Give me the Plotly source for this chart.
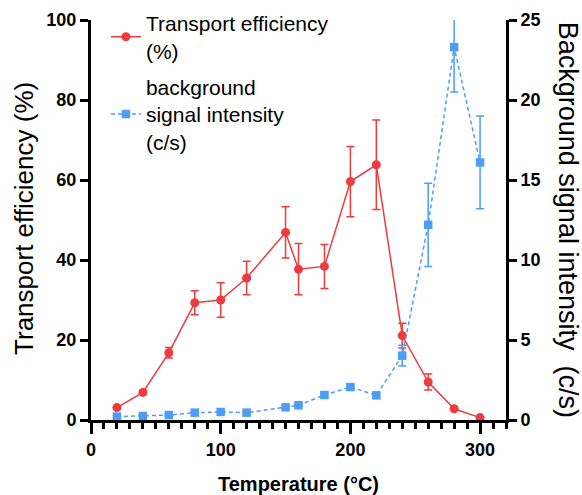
import plotly.graph_objects as go

temperature = [20, 40, 60, 80, 100, 120, 150, 160, 180, 200, 220, 240, 260, 280, 300]
efficiency = [3.1, 6.9, 16.8, 29.3, 30.0, 35.5, 46.9, 37.7, 38.4, 59.6, 63.8, 21.1, 9.5, 2.8, 0.6]
efficiency_err = [0.4, 0.5, 1.3, 3.0, 4.3, 4.2, 6.4, 6.4, 5.5, 8.8, 11.2, 3.1, 2.0, 0.3, 0.2]
background = [0.21, 0.25, 0.31, 0.46, 0.50, 0.46, 0.79, 0.92, 1.56, 2.06, 1.54, 4.02, 12.2, 23.3, 16.1]
background_err = [0.05, 0.05, 0.05, 0.05, 0.05, 0.05, 0.05, 0.05, 0.1, 0.1, 0.1, 0.65, 2.6, 2.8, 2.9]

x_ticks = [0, 100, 200, 300]
y_ticks = [0, 20, 40, 60, 80, 100]
y2_ticks = [0, 5, 10, 15, 20, 25]

RED = "#EE3B3F"
BLUE = "#4D9DF5"
FONT = "Liberation Sans, Arial, sans-serif"

fig = go.Figure()

fig.add_trace(go.Scatter(
    x=temperature, y=background, yaxis="y2", mode="markers",
    marker=dict(size=8.5, symbol="square", color="rgba(0,0,0,0)"),
    error_y=dict(type="data", array=background_err, color=BLUE, thickness=1.5, width=4),
    showlegend=False, hoverinfo="skip", cliponaxis=True,
))
fig.add_trace(go.Scatter(
    x=temperature, y=background, yaxis="y2", mode="lines+markers",
    name="background<br>signal intensity<br>(c/s)",
    line=dict(color=BLUE, width=1.5, dash="4px,3px"),
    marker=dict(size=8.5, symbol="square", color=BLUE),
    cliponaxis=False, legendrank=2, legendgroup="b",
))
fig.add_trace(go.Scatter(
    x=temperature, y=efficiency, mode="markers",
    marker=dict(size=9, color="rgba(0,0,0,0)"),
    error_y=dict(type="data", array=efficiency_err, color=RED, thickness=1.5, width=4),
    showlegend=False, hoverinfo="skip", cliponaxis=True,
))
fig.add_trace(go.Scatter(
    x=temperature, y=efficiency, mode="lines+markers",
    name="Transport efficiency<br>(%)",
    line=dict(color=RED, width=1.5),
    marker=dict(size=9, symbol="circle", color=RED),
    cliponaxis=False, legendrank=1, legendgroup="a",
))

axis_common = dict(
    showline=True, linecolor="black", linewidth=3, showgrid=False, zeroline=False,
    ticks="outside", tickcolor="black", tickwidth=3,
    tickfont=dict(family=FONT, size=18, color="black", weight="bold"),
)

fig.update_layout(
    width=582, height=495,
    margin=dict(l=91, r=76, t=20, b=75, autoexpand=False),
    paper_bgcolor="white", plot_bgcolor="white",
    font=dict(family=FONT, color="black"),
    xaxis=dict(range=[0, 320], tickvals=x_ticks, ticklen=11,
               minor=dict(dtick=10, tick0=0, ticks="outside", ticklen=6, tickwidth=2.5, tickcolor="black", showgrid=False),
               **axis_common),
    yaxis=dict(range=[0, 100], tickvals=y_ticks, ticklen=8, **axis_common),
    yaxis2=dict(range=[0, 25], tickvals=y2_ticks, ticklen=8, overlaying="y", side="right",
                anchor="x", **axis_common),
    legend=dict(x=0.036, y=0.994, yref="container", xanchor="left", yanchor="top",
                font=dict(family=FONT, size=21, color="black"),
                bgcolor="rgba(0,0,0,0)", traceorder="grouped", tracegroupgap=6),
    showlegend=True,
    annotations=[
        dict(text="Transport efficiency (%)", xref="paper", yref="paper", x=-0.1616, y=0.505,
             textangle=-90, showarrow=False, xanchor="center", yanchor="middle",
             font=dict(family=FONT, size=26, color="black")),
        dict(text="Background signal intensity  (c/s)", xref="paper", yref="paper", x=1.15, y=0.5,
             textangle=90, showarrow=False, xanchor="center", yanchor="middle",
             font=dict(family=FONT, size=27, color="black")),
        dict(text="<b>Temperature (°C)</b>", xref="paper", yref="paper", x=0.5004, y=-0.16,
             showarrow=False, xanchor="center", yanchor="middle",
             font=dict(family=FONT, size=20, color="black")),
    ],
)

fig.write_html("out.html")
